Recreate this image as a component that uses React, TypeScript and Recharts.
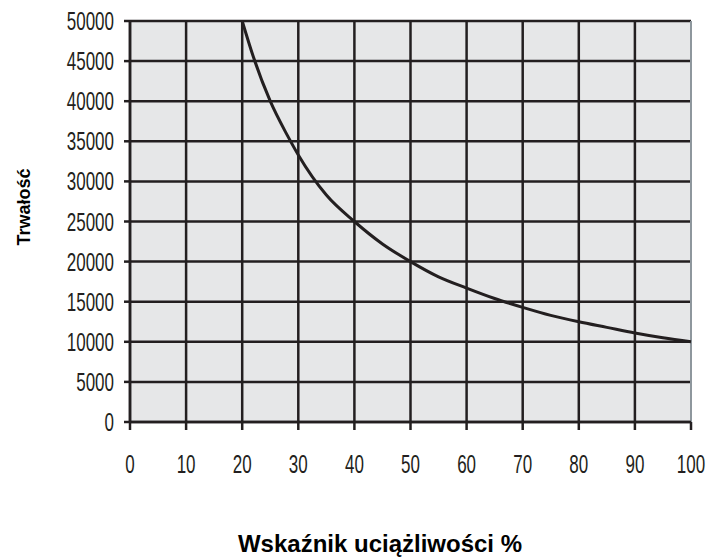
import { LineChart, Line, XAxis, YAxis, CartesianGrid, ReferenceLine } from 'recharts';

// Trwałość w funkcji wskaźnika uciążliwości
const wskaznik = [20, 22, 25, 28, 30, 35, 40, 45, 50, 55, 60, 65, 70, 75, 80, 85, 90, 95, 100];
const trwalosc = [50000, 45500, 40000, 35800, 33300, 28300, 25000, 22200, 20000, 18100, 16700, 15400, 14300, 13300, 12500, 11800, 11100, 10500, 10000];

const X_TICKS = [0, 10, 20, 30, 40, 50, 60, 70, 80, 90, 100];
const Y_TICKS = [0, 5000, 10000, 15000, 20000, 25000, 30000, 35000, 40000, 45000, 50000];

const INK = '#231f20';
const TICK_FONT = '"Liberation Sans", Arial, sans-serif';

const chartData = wskaznik.map((x, i) => ({ x, y: trwalosc[i] }));

// condensed-looking tick labels
const XTick = ({ x, y, payload }: any) => (
  <g transform={`translate(${x},${y})`}>
    <text transform="scale(0.68,1)" textAnchor="middle" dy={41} fontSize={25} fontFamily={TICK_FONT} fill={INK}>
      {payload.value}
    </text>
  </g>
);

const YTick = ({ x, y, payload }: any) => (
  <g transform={`translate(${x},${y})`}>
    <text transform="scale(0.68,1)" textAnchor="end" dy={9} fontSize={25} fontFamily={TICK_FONT} fill={INK}>
      {payload.value}
    </text>
  </g>
);

const XTitle = () => (
  <text x={380} y={552} textAnchor="middle" fontSize={24} fontWeight="bold" fontFamily={TICK_FONT} fill="#000">
    Wskaźnik uciążliwości %
  </text>
);

const YTitle = () => (
  <text
    x={24}
    y={207}
    transform="rotate(-90, 24, 207)"
    textAnchor="middle"
    dominantBaseline="central"
    fontSize={18}
    fontWeight="bold"
    fontFamily={TICK_FONT}
    fill="#000"
  >
    Trwałość
  </text>
);

export default function App() {
  return (
    <div style={{ position: 'absolute', left: 0, top: 0, width: 707, height: 558, background: '#fff' }}>
      <LineChart width={707} height={558} data={chartData} margin={{ top: 21, right: 16, bottom: 0, left: 0 }}>
        <CartesianGrid
          fill="#e6e7e8"
          fillOpacity={1}
          stroke={INK}
          strokeWidth={2.5}
          verticalValues={[0, 10, 20, 30, 40, 50, 60, 70, 80, 90]}
          horizontalValues={Y_TICKS}
        />
        <XAxis
          dataKey="x"
          type="number"
          domain={[0, 100]}
          ticks={X_TICKS}
          height={136}
          tickSize={8}
          tick={<XTick />}
          axisLine={{ stroke: INK, strokeWidth: 2.5 }}
          tickLine={{ stroke: INK, strokeWidth: 2.5 }}
          label={<XTitle />}
        />
        <YAxis
          type="number"
          domain={[0, 50000]}
          ticks={Y_TICKS}
          width={130}
          tickSize={6}
          tickMargin={10}
          tick={<YTick />}
          axisLine={{ stroke: INK, strokeWidth: 2.5 }}
          tickLine={{ stroke: INK, strokeWidth: 2.5 }}
          label={<YTitle />}
        />
        <ReferenceLine x={100} stroke="#8e979d" strokeWidth={2} />
        <Line
          dataKey="y"
          type="monotone"
          stroke={INK}
          strokeWidth={3}
          dot={false}
          isAnimationActive={false}
        />
      </LineChart>
    </div>
  );
}
